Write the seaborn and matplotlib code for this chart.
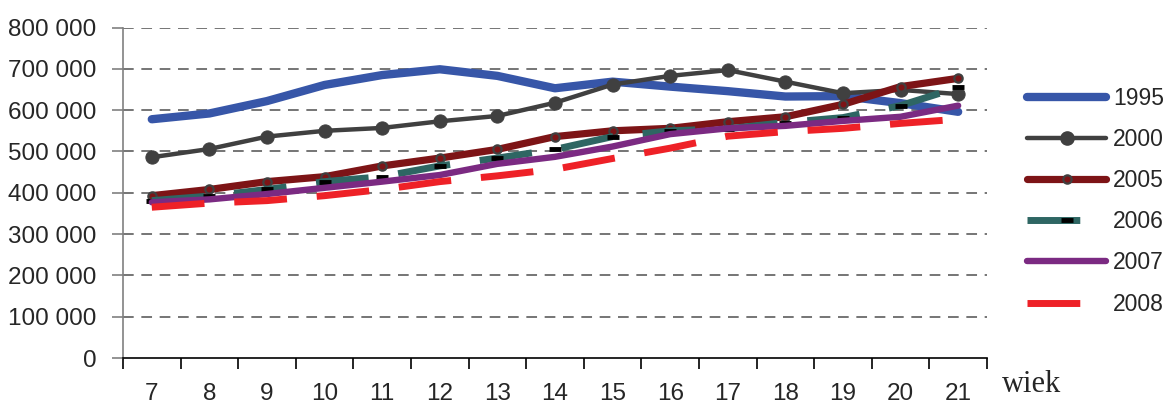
import matplotlib
matplotlib.use("Agg")
import matplotlib.pyplot as plt
from matplotlib.lines import Line2D
import seaborn as sns
import pandas as pd

# ------------------------------------------------------------
# data
# ------------------------------------------------------------
ages = [7, 8, 9, 10, 11, 12, 13, 14, 15, 16, 17, 18, 19, 20, 21]

y1995 = [578000, 592000, 622000, 661000, 685000, 699000, 683000, 653000,
         669000, 657000, 646000, 633000, 634000, 617000, 596000]
y2000 = [486000, 506000, 536000, 550000, 557000, 573000, 586000, 618000,
         662000, 683000, 697000, 669000, 641000, 649000, 639000]
y2005 = [393000, 408000, 427000, 439000, 465000, 484000, 505000, 536000,
         550000, 556000, 572000, 584000, 614000, 657000, 677000]
y2006 = [381000, 392000, 408000, 427000, 439000, 465000, 484000, 505000,
         536000, 550000, 555000, 570000, 582000, 611000, 655000]
y2007 = [377000, 384000, 397000, 412000, 427000, 443000, 470000, 487000,
         512000, 542000, 556000, 562000, 574000, 584000, 611000]
y2008 = [365000, 375000, 381000, 393000, 408000, 427000, 441000, 457000,
         483000, 508000, 537000, 548000, 556000, 568000, 578000]

y_ticks = [0, 100000, 200000, 300000, 400000, 500000, 600000, 700000, 800000]
y_tick_labels = ["0", "100 000", "200 000", "300 000", "400 000",
                 "500 000", "600 000", "700 000", "800 000"]

# ------------------------------------------------------------
# style per series
# ------------------------------------------------------------
DASH = (0, (7.6, 4.3))
STYLES = {
    "1995": dict(color="#3756A8", linewidth=6, solid_capstyle="round"),
    "2000": dict(color="#404040", linewidth=3.2, solid_capstyle="round",
                 marker="o", markersize=9.5, markerfacecolor="#404040",
                 markeredgecolor="#404040"),
    "2005": dict(color="#7D1416", linewidth=5.2, solid_capstyle="round",
                 marker="o", markersize=6, markerfacecolor="#7D1416",
                 markeredgecolor="#404040", markeredgewidth=1.6),
    "2006": dict(color="#2E6663", linewidth=5, linestyle=DASH,
                 dash_capstyle="butt", marker="_", markersize=9,
                 markeredgewidth=3.5, markeredgecolor="black"),
    "2007": dict(color="#7B2A82", linewidth=4.6, solid_capstyle="round"),
    "2008": dict(color="#EE2127", linewidth=5, linestyle=DASH,
                 dash_capstyle="butt"),
}

series = {"1995": y1995, "2000": y2000, "2005": y2005,
          "2006": y2006, "2007": y2007, "2008": y2008}

sns.set_style("white")
plt.rcParams["font.family"] = ["Liberation Sans", "DejaVu Sans"]

fig = plt.figure(figsize=(11.68, 4.05), dpi=100)
ax = fig.add_axes([0.1053, 0.116, 0.7397, 0.816])

for name, vals in series.items():
    df = pd.DataFrame({"wiek": ages, "value": vals})
    sns.lineplot(data=df, x="wiek", y="value", ax=ax, label=name,
                 **STYLES[name])

# axes & grid
ax.set_xlim(6.5, 21.5)
ax.set_ylim(0, 800000)
ax.set_yticks(y_ticks)
ax.set_yticklabels(y_tick_labels)
ax.set_xticks(ages)
ax.set_xticklabels([str(a) for a in ages])
ax.set_xticks([a - 0.5 for a in ages] + [21.5], minor=True)
ax.tick_params(axis="x", which="major", length=0, pad=18, labelsize=17.5)
ax.tick_params(axis="x", which="minor", length=8, width=1.2, color="black",
               direction="out", bottom=True)
ax.tick_params(axis="y", length=8, width=1.2, color="#808080", pad=11,
               labelsize=17.5, left=True)
ax.set_xlabel(""); ax.set_ylabel("")
ax.grid(False)
for v in y_ticks[1:]:
    ax.axhline(v, color="#505050", linewidth=1.1, linestyle=(0, (7, 5)),
               zorder=0)
for s in ["top", "right"]:
    ax.spines[s].set_visible(False)
ax.spines["left"].set_color("#808080")
ax.spines["left"].set_linewidth(1.2)
ax.spines["bottom"].set_color("black")
ax.spines["bottom"].set_linewidth(1.2)

# legend outside on the right; dashed entries show a single dash
ax.legend_.remove()
handles = []
for name in series:
    st = dict(STYLES[name])
    if "linestyle" in st:
        st["linestyle"] = (0, (7.6, 20))
    handles.append(Line2D([], [], **st))
fig.legend(handles, list(series), loc="upper left",
           bbox_to_anchor=(1027 / 1168, 1 - 87 / 405), frameon=False,
           fontsize=16.5, handlelength=3.45, handletextpad=0.3,
           labelspacing=0.79, borderpad=0, borderaxespad=0)

fig.text(1002 / 1168, 1 - 392 / 405, "wiek", family="Liberation Serif",
         fontsize=22, va="baseline", ha="left")

fig.savefig("out.png", dpi=100)
